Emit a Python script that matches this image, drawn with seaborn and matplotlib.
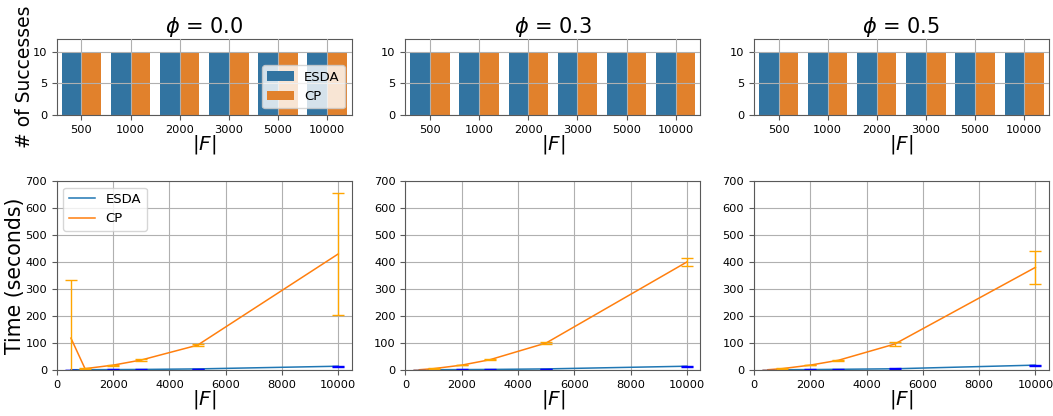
import numpy as np
import pandas as pd
import matplotlib
matplotlib.use("Agg")
import matplotlib.pyplot as plt
import seaborn as sns

# ---------------- data ----------------
sizes = [500, 1000, 2000, 3000, 5000, 10000]
size_labels = ["500", "1000", "2000", "3000", "5000", "10000"]
methods = ["ESDA", "CP"]
phi_titles = [r"$\phi$ = 0.0", r"$\phi$ = 0.3", r"$\phi$ = 0.5"]

succ_esda_00 = [10, 10, 10, 10, 10, 10]
succ_cp_00 = [10, 10, 10, 10, 10, 10]
succ_esda_03 = [10, 10, 10, 10, 10, 10]
succ_cp_03 = [10, 10, 10, 10, 10, 10]
succ_esda_05 = [10, 10, 10, 10, 10, 10]
succ_cp_05 = [10, 10, 10, 10, 10, 10]

esda_time_00 = [1, 1, 1.5, 2, 4, 14]
esda_err_00 = [0.3, 0.3, 0.5, 1, 1.5, 2]
cp_time_00 = [118, 5, 18, 37, 92, 430]
cp_err_00 = [215, 2, 2, 2, 3, 225]

esda_time_03 = [0.5, 1, 1.5, 2, 4, 14]
esda_err_03 = [0.3, 0.3, 0.5, 1, 1.5, 2]
cp_time_03 = [1, 5, 18, 38, 100, 400]
cp_err_03 = [0.5, 1, 1, 2, 2, 14]

esda_time_05 = [0.5, 1, 1.5, 2.5, 4.5, 18]
esda_err_05 = [0.3, 0.3, 0.5, 1, 1.5, 2]
cp_time_05 = [1, 5, 18, 36, 96, 380]
cp_err_05 = [0.5, 1, 1, 2, 8, 62]

succ_sets = [(succ_esda_00, succ_cp_00), (succ_esda_03, succ_cp_03), (succ_esda_05, succ_cp_05)]
time_sets = [(esda_time_00, esda_err_00, cp_time_00, cp_err_00),
             (esda_time_03, esda_err_03, cp_time_03, cp_err_03),
             (esda_time_05, esda_err_05, cp_time_05, cp_err_05)]

# ---------------- figure ----------------
fig = plt.figure(figsize=(10.53, 4.16), dpi=100)
lefts = [0.054, 0.385, 0.716]
w = 0.280
spine_col = "0.35"
tick_fs = 8.2
label_fs = 14.5
leg_fs = 9.5

for i in range(3):
    # ----- top: bar chart of successes -----
    ax = fig.add_axes([lefts[i], 0.7236, w, 0.183])
    se, sc = succ_sets[i]
    df = pd.DataFrame({
        "F": size_labels * 2,
        "Method": ["ESDA"] * 6 + ["CP"] * 6,
        "succ": list(se) + list(sc),
    })
    sns.barplot(data=df, x="F", y="succ", hue="Method", hue_order=methods,
                order=size_labels, ax=ax, legend=(i == 0), errorbar=None)
    ax.set_ylim(0, 12)
    ax.set_yticks([0, 5, 10])
    ax.grid(True, color="#b0b0b0", linewidth=0.8)
    ax.set_axisbelow(False)
    ax.set_xlabel(r"$|F|$", fontsize=label_fs, labelpad=-1)
    ax.set_ylabel("# of Successes" if i == 0 else "", fontsize=13.5, labelpad=-1)
    ax.set_title(phi_titles[i], fontsize=15, pad=3)
    ax.tick_params(labelsize=tick_fs, color=spine_col)
    for s in ax.spines.values():
        s.set_color(spine_col)
    if i == 0:
        sns.move_legend(ax, "lower right", title=None, fontsize=leg_fs)

    # ----- bottom: time lines -----
    ax2 = fig.add_axes([lefts[i], 0.1106, w, 0.4544])
    et, ee, ct, ce = time_sets[i]
    dfl = pd.DataFrame({
        "F": sizes * 2,
        "Method": ["ESDA"] * 6 + ["CP"] * 6,
        "time": list(et) + list(ct),
    })
    sns.lineplot(data=dfl, x="F", y="time", hue="Method", hue_order=methods,
                 palette=["#1f77b4", "#ff7f0e"], ax=ax2, legend=(i == 0),
                 errorbar=None, linewidth=1.1)
    ax2.errorbar(sizes, et, yerr=ee, fmt="none", ecolor="blue", capsize=4, elinewidth=1)
    ax2.errorbar(sizes, ct, yerr=ce, fmt="none", ecolor="orange", capsize=4, elinewidth=1)
    ax2.set_ylim(0, 700)
    ax2.set_xlim(0, 10475)
    ax2.set_xticks([0, 2000, 4000, 6000, 8000, 10000])
    ax2.set_yticks(range(0, 701, 100))
    ax2.grid(True, color="#b0b0b0", linewidth=0.8)
    ax2.set_xlabel(r"$|F|$", fontsize=label_fs, labelpad=-1)
    ax2.set_ylabel("Time (seconds)" if i == 0 else "", fontsize=14.8, labelpad=0)
    ax2.tick_params(labelsize=tick_fs, color=spine_col)
    for s in ax2.spines.values():
        s.set_color(spine_col)
    if i == 0:
        sns.move_legend(ax2, "upper left", title=None, fontsize=leg_fs)

fig.savefig("out.png", dpi=100)
